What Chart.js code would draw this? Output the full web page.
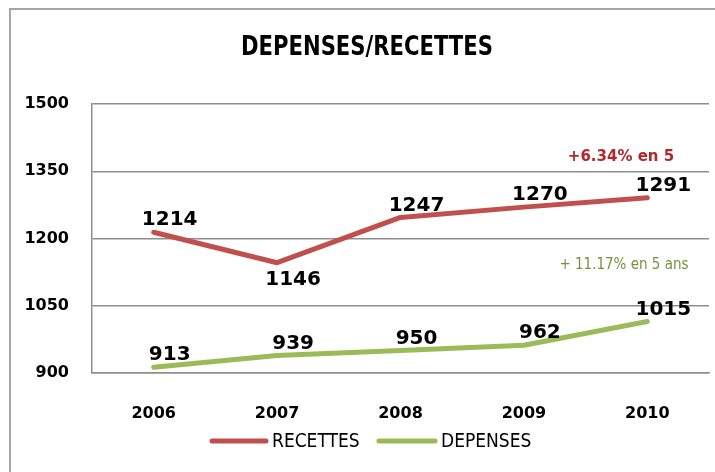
<!DOCTYPE html>
<html>
<head>
<meta charset="utf-8">
<script src="https://cdn.jsdelivr.net/npm/chart.js@4"></script>
<style>
html,body{margin:0;padding:0;background:#fff;}
#wrap{position:relative;width:715px;height:472px;}
</style>
</head>
<body>
<div id="wrap"><canvas id="c" width="715" height="472"></canvas></div>
<script>
const years = ['2006', '2007', '2008', '2009', '2010'];
const recettes = [1214, 1146, 1247, 1270, 1291];
const depenses = [913, 939, 950, 962, 1015];
const yTicks = [900, 1050, 1200, 1350, 1500];
const titleText = 'DEPENSES/RECETTES';
const noteRecettes = '+6.34% en 5';
const noteDepenses = '+ 11.17% en 5 ans';

const RED = '#C0504D';
const GREEN = '#9BBB59';
const GRID = '#8e8e8e';
const NARROW = '"Liberation Sans Narrow", "DejaVu Sans Condensed", "Liberation Sans", sans-serif';

const decor = {
  id: 'decor',
  beforeDraw(chart) {
    const ctx = chart.ctx;
    ctx.save();
    ctx.fillStyle = '#fff';
    ctx.fillRect(0, 0, chart.width, chart.height);
    ctx.strokeStyle = '#a6a6a6';
    ctx.lineWidth = 2;
    ctx.beginPath();
    ctx.moveTo(10, chart.height);
    ctx.lineTo(10, 9);
    ctx.lineTo(chart.width, 9);
    ctx.stroke();
    ctx.restore();
  },
  afterDraw(chart) {
    const ctx = chart.ctx;
    ctx.save();
    // title (horizontally condensed)
    ctx.fillStyle = '#000';
    ctx.font = 'bold 27px ' + NARROW;
    ctx.textAlign = 'center';
    ctx.textBaseline = 'middle';
    ctx.save();
    ctx.translate(367, 48);
    ctx.scale(0.87, 1);
    ctx.fillText(titleText, 0, 0);
    ctx.restore();

    // data labels
    ctx.font = 'bold 20px "DejaVu Sans", sans-serif';
    ctx.fillStyle = '#000';
    chart.data.datasets.forEach((ds, di) => {
      const meta = chart.getDatasetMeta(di);
      meta.data.forEach((pt, i) => {
        const v = ds.data[i];
        const prev = ds.data[i - 1], next = ds.data[i + 1];
        const isMin = prev !== undefined && next !== undefined && v < prev && v < next;
        const dy = isMin ? 17 : -12;
        ctx.fillText(String(v), pt.x + 16, pt.y + dy);
      });
    });

    // notes
    ctx.font = 'bold 15px "DejaVu Sans", sans-serif';
    ctx.fillStyle = '#B3262A';
    ctx.fillText(noteRecettes, 621, 157);
    ctx.font = '15px ' + NARROW;
    ctx.fillStyle = '#77933C';
    ctx.fillText(noteDepenses, 624, 265);

    // legend
    const items = [
      {label: chart.data.datasets[0].label, color: chart.data.datasets[0].borderColor, x0: 212, x1: 266},
      {label: chart.data.datasets[1].label, color: chart.data.datasets[1].borderColor, x0: 379, x1: 435}
    ];
    const ly = 441;
    items.forEach(it => {
      ctx.strokeStyle = it.color;
      ctx.lineWidth = 5;
      ctx.lineCap = 'round';
      ctx.beginPath();
      ctx.moveTo(it.x0, ly);
      ctx.lineTo(it.x1, ly);
      ctx.stroke();
      ctx.fillStyle = '#000';
      ctx.font = '19px ' + NARROW;
      ctx.textAlign = 'left';
      ctx.fillText(it.label, it.x1 + 6, ly + 1);
    });
    ctx.restore();
  }
};

new Chart(document.getElementById('c'), {
  type: 'line',
  data: {
    labels: years,
    datasets: [
      {label: 'RECETTES', data: recettes, borderColor: RED, backgroundColor: RED, borderWidth: 5, pointRadius: 0, tension: 0, borderCapStyle: 'round', borderJoinStyle: 'round'},
      {label: 'DEPENSES', data: depenses, borderColor: GREEN, backgroundColor: GREEN, borderWidth: 5, pointRadius: 0, tension: 0, borderCapStyle: 'round', borderJoinStyle: 'round'}
    ]
  },
  options: {
    responsive: false,
    animation: false,
    events: [],
    layout: {padding: {left: 0, right: 6, top: 104, bottom: 0}},
    plugins: {legend: {display: false}, title: {display: false}, tooltip: {enabled: false}},
    scales: {
      x: {
        offset: true,
        grid: {display: false, drawTicks: false},
        border: {display: true, color: GRID, width: 1.5},
        ticks: {color: '#000', font: {family: '"DejaVu Sans", sans-serif', size: 16, weight: 'bold'}, padding: 31, maxRotation: 0},
        afterFit(s) { s.height = 99; }
      },
      y: {
        min: 900, max: 1500,
        afterBuildTicks(s) { s.ticks = yTicks.map(v => ({value: v})); },
        grid: {color: GRID, lineWidth: 1.5, drawTicks: false},
        border: {display: true, color: GRID, width: 1.5},
        ticks: {color: '#000', font: {family: '"DejaVu Sans", sans-serif', size: 16, weight: 'bold'}, padding: 23, callback: v => String(v)},
        afterFit(s) { s.width = 92; }
      }
    }
  },
  plugins: [decor]
});
</script>
</body>
</html>
